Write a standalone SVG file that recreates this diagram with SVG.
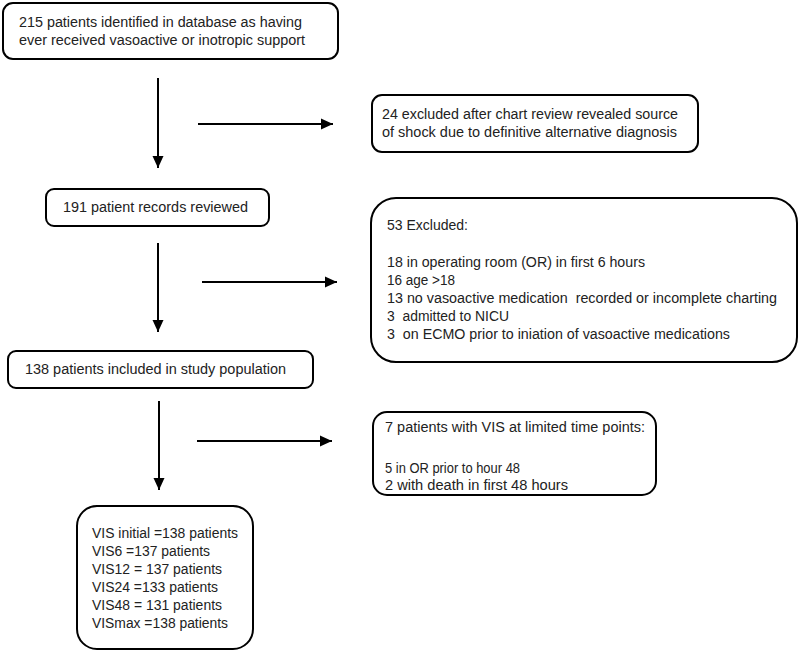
<svg xmlns="http://www.w3.org/2000/svg" width="800" height="652" viewBox="0 0 800 652">
<defs>
<marker id="ah" markerUnits="userSpaceOnUse" markerWidth="12" markerHeight="12" viewBox="0 0 12 12" refX="12" refY="6" orient="auto">
<path d="M0,0.5 L12,6 L0,11.5 Z" fill="#000"/>
</marker>
</defs>
<style>
.box{fill:#fff;stroke:#000;stroke-width:2}
.t{font-family:"Liberation Sans",Arial,sans-serif;font-size:14px;fill:#222}
.c{stroke:#000;stroke-width:2;fill:none;marker-end:url(#ah)}
</style>
<rect width="800" height="652" fill="#fff"/>
<g id="connectors">
<line class="c" x1="158" y1="78" x2="158" y2="168"/>
<line class="c" x1="198" y1="124" x2="333" y2="124"/>
<line class="c" x1="158" y1="243" x2="158" y2="332"/>
<line class="c" x1="202" y1="282" x2="337" y2="282"/>
<line class="c" x1="159" y1="401" x2="159" y2="490"/>
<line class="c" x1="197" y1="441" x2="332" y2="441"/>
</g>
<g id="n1">
<rect class="box" x="3" y="3" width="335" height="56" rx="10"/>
<text class="t" x="19" y="27" textLength="283" lengthAdjust="spacingAndGlyphs">215 patients identified in database as having</text>
<text class="t" x="19" y="45" textLength="286" lengthAdjust="spacingAndGlyphs">ever received vasoactive or inotropic support</text>
</g>
<g id="n2">
<rect class="box" x="372" y="95" width="326" height="57" rx="10"/>
<text class="t" x="382" y="119" textLength="296" lengthAdjust="spacingAndGlyphs">24 excluded after chart review revealed source</text>
<text class="t" x="382" y="137" textLength="295" lengthAdjust="spacingAndGlyphs">of shock due to definitive alternative diagnosis</text>
</g>
<g id="n3">
<rect class="box" x="46" y="189" width="223" height="37" rx="8"/>
<text class="t" x="63" y="212" textLength="185" lengthAdjust="spacingAndGlyphs">191 patient records reviewed</text>
</g>
<g id="n4">
<rect class="box" x="371" y="198" width="426" height="164" rx="25"/>
<text class="t" x="387" y="230" textLength="81" lengthAdjust="spacingAndGlyphs">53 Excluded:</text>
<text class="t" x="387" y="267" textLength="258" lengthAdjust="spacingAndGlyphs">18 in operating room (OR) in first 6 hours</text>
<text class="t" x="387" y="285" textLength="68" lengthAdjust="spacingAndGlyphs">16 age &gt;18</text>
<text class="t" x="387" y="303" textLength="390" lengthAdjust="spacingAndGlyphs" xml:space="preserve">13 no vasoactive medication  recorded or incomplete charting</text>
<text class="t" x="387" y="321" textLength="122" lengthAdjust="spacingAndGlyphs" xml:space="preserve">3  admitted to NICU</text>
<text class="t" x="387" y="339" textLength="343" lengthAdjust="spacingAndGlyphs" xml:space="preserve">3  on ECMO prior to iniation of vasoactive medications</text>
</g>
<g id="n5">
<rect class="box" x="8" y="351" width="305" height="37" rx="8"/>
<text class="t" x="25" y="374" textLength="261" lengthAdjust="spacingAndGlyphs">138 patients included in study population</text>
</g>
<g id="n6">
<rect class="box" x="373" y="412" width="283" height="83" rx="14"/>
<text class="t" x="385" y="432" textLength="260" lengthAdjust="spacingAndGlyphs">7 patients with VIS at limited time points:</text>
<text class="t" x="385" y="473" textLength="135" lengthAdjust="spacingAndGlyphs">5 in OR prior to hour 48</text>
<text class="t" x="385" y="490" textLength="183" lengthAdjust="spacingAndGlyphs">2 with death in first 48 hours</text>
</g>
<g id="n7">
<rect class="box" x="77" y="506" width="176" height="143" rx="20"/>
<text class="t" x="92" y="538" textLength="146" lengthAdjust="spacingAndGlyphs">VIS initial =138 patients</text>
<text class="t" x="92" y="556" textLength="118" lengthAdjust="spacingAndGlyphs">VIS6 =137 patients</text>
<text class="t" x="92" y="574" textLength="130" lengthAdjust="spacingAndGlyphs">VIS12 = 137 patients</text>
<text class="t" x="92" y="592" textLength="126" lengthAdjust="spacingAndGlyphs">VIS24 =133 patients</text>
<text class="t" x="92" y="610" textLength="130" lengthAdjust="spacingAndGlyphs">VIS48 = 131 patients</text>
<text class="t" x="92" y="628" textLength="136" lengthAdjust="spacingAndGlyphs">VISmax =138 patients</text>
</g>
</svg>
